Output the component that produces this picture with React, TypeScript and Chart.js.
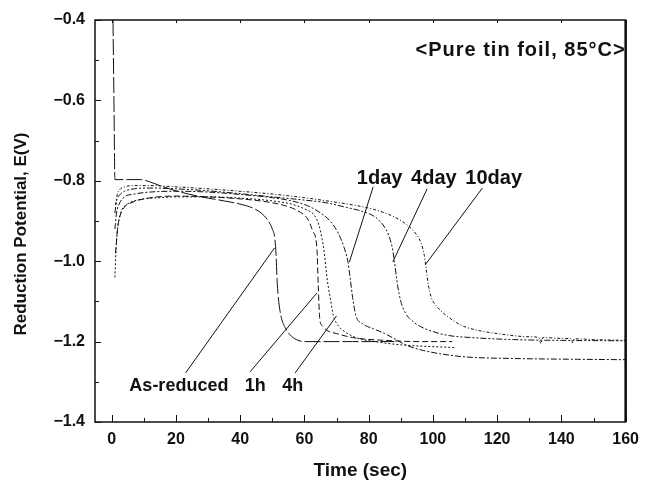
import React, { useEffect, useRef } from "react";
import { Chart, registerables } from "chart.js";

Chart.register(...registerables);

// ---- Data (time in sec, potential in V) ----
const asReducedT = [0.4, 0.7, 1.0, 5, 9, 12, 15, 20, 25, 30, 35, 40, 44, 46.5, 48.5, 50, 50.8, 51.2, 51.5, 52, 52.8, 54, 55.5, 57.5, 60, 65, 75, 88];
const asReducedE = [-0.4, -0.6, -0.797, -0.797, -0.797, -0.803, -0.812, -0.825, -0.835, -0.843, -0.85, -0.858, -0.868, -0.88, -0.897, -0.92, -0.945, -0.99, -1.05, -1.1, -1.14, -1.165, -1.183, -1.195, -1.2, -1.2, -1.2, -1.2];

const h1T = [1.2, 1.8, 2.5, 4, 6, 10, 20, 30, 40, 48, 54, 58, 61, 62.6, 63.9, 64.3, 64.8, 65.5, 67, 70, 75, 85, 96, 106];
const h1E = [-0.98, -0.92, -0.89, -0.865, -0.855, -0.845, -0.838, -0.84, -0.845, -0.852, -0.862, -0.875, -0.895, -0.925, -0.97, -1.06, -1.146, -1.16, -1.172, -1.18, -1.19, -1.197, -1.2, -1.2];

const h4T = [1.0, 1.3, 1.7, 2.2, 3, 4.5, 7, 10, 15, 20, 30, 40, 50, 56, 60, 63, 64.5, 65.5, 66.2, 67, 68, 69, 70.5, 72.5, 76, 82, 90, 107];
const h4E = [-1.04, -0.98, -0.93, -0.9, -0.875, -0.86, -0.85, -0.845, -0.842, -0.84, -0.84, -0.843, -0.85, -0.858, -0.87, -0.885, -0.91, -0.945, -0.98, -1.04, -1.09, -1.135, -1.16, -1.175, -1.19, -1.2, -1.208, -1.215];

const day1T = [1.0, 1.5, 2.5, 4, 7, 12, 20, 30, 40, 50, 56, 61, 65, 68, 70.5, 72.3, 73.5, 74.2, 75, 76, 78, 81.5, 85, 88.5, 92, 97, 102, 110, 125, 145, 160];
const day1E = [-0.92, -0.88, -0.855, -0.84, -0.833, -0.828, -0.826, -0.828, -0.834, -0.842, -0.85, -0.862, -0.88, -0.9, -0.93, -0.965, -1.0, -1.04, -1.09, -1.135, -1.155, -1.168, -1.18, -1.195, -1.21, -1.222, -1.23, -1.238, -1.242, -1.244, -1.245];

const day4T = [1.0, 1.5, 2.5, 4, 7, 12, 20, 30, 40, 50, 60, 67, 73, 78, 82, 84.5, 86.2, 87.3, 88, 89, 90, 91.5, 93.5, 96, 100, 105, 112, 125, 140, 160];
const day4E = [-0.88, -0.85, -0.835, -0.826, -0.82, -0.818, -0.82, -0.825, -0.832, -0.84, -0.848, -0.855, -0.866, -0.876, -0.89, -0.91, -0.935, -0.965, -1.0, -1.06, -1.1, -1.13, -1.148, -1.162, -1.175, -1.185, -1.19, -1.195, -1.197, -1.198];

const day10T = [1.2, 1.7, 2.5, 4, 7, 12, 20, 30, 40, 50, 60, 67, 75, 82, 88, 92, 94.5, 96.3, 97.3, 97.9, 98.6, 99.5, 101.5, 105, 109, 114, 120, 130, 133, 133.6, 134.2, 140, 143, 143.5, 144, 150, 160];
const day10E = [-0.86, -0.835, -0.822, -0.815, -0.812, -0.812, -0.815, -0.82, -0.826, -0.833, -0.842, -0.85, -0.86, -0.872, -0.89, -0.91, -0.93, -0.955, -0.985, -1.02, -1.06, -1.09, -1.115, -1.14, -1.16, -1.172, -1.18, -1.188, -1.19, -1.205, -1.19, -1.192, -1.193, -1.203, -1.193, -1.195, -1.197];

// leader lines (from label to curve)
const leaderStartT = [23.0, 43.0, 57.1, 81.4, 98.2, 115.4];
const leaderStartE = [-1.278, -1.276, -1.278, -0.815, -0.82, -0.818];
const leaderEndT = [50.7, 63.9, 70.0, 74.0, 87.5, 97.6];
const leaderEndE = [-0.967, -1.079, -1.136, -1.002, -1.002, -1.009];

// annotation labels
const labelTexts = ["1day", "4day", "10day", "As-reduced", "1h", "4h"];
const labelT = [76.3, 93.2, 110.1, 5.5, 41.4, 53.1];
const labelE = [-0.793, -0.793, -0.793, -1.31, -1.31, -1.31];
const chartNote = "<Pure tin foil, 85°C>";
const noteT = 160.0;
const noteE = -0.475;

const xTicks = [0, 20, 40, 60, 80, 100, 120, 140, 160];
const xMinorTicks = [10, 30, 50, 70, 90, 110, 130, 150];
const yTicks = [-1.4, -1.2, -1.0, -0.8, -0.6, -0.4];
const yMinorTicks = [-1.3, -1.1, -0.9, -0.7, -0.5];

const xTitle = "Time (sec)";
const yTitle = "Reduction Potential, E(V)";

const FONT = "'Liberation Sans', Arial, Helvetica, sans-serif";

function pts(t: number[], e: number[]) {
  return t.map((v, i) => ({ x: v, y: e[i] }));
}

const decorPlugin = {
  id: "decor",
  afterDraw(chart: any) {
    const { ctx, chartArea: a, scales } = chart;
    const xs = scales.x;
    const ys = scales.y;
    ctx.save();
    ctx.strokeStyle = "#111";
    ctx.lineWidth = 1.5;
    ctx.strokeRect(a.left, a.top, a.right - a.left, a.bottom - a.top);
    ctx.lineWidth = 2.5;
    ctx.beginPath();
    ctx.moveTo(a.right, a.top);
    ctx.lineTo(a.right, a.bottom);
    ctx.stroke();

    ctx.lineWidth = 1;
    ctx.beginPath();
    for (const v of xTicks) {
      const px = Math.round(xs.getPixelForValue(v)) + 0.5;
      ctx.moveTo(px, a.bottom);
      ctx.lineTo(px, a.bottom - 7);
      ctx.moveTo(px, a.top);
      ctx.lineTo(px, a.top + 3);
    }
    for (const v of xMinorTicks) {
      const px = Math.round(xs.getPixelForValue(v)) + 0.5;
      ctx.moveTo(px, a.bottom);
      ctx.lineTo(px, a.bottom - 4);
    }
    for (const v of yTicks) {
      const py = Math.round(ys.getPixelForValue(v)) + 0.5;
      ctx.moveTo(a.left, py);
      ctx.lineTo(a.left + 6, py);
    }
    for (const v of yMinorTicks) {
      const py = Math.round(ys.getPixelForValue(v)) + 0.5;
      ctx.moveTo(a.left, py);
      ctx.lineTo(a.left + 4, py);
    }
    ctx.stroke();

    ctx.fillStyle = "#111";
    ctx.textBaseline = "middle";
    // note
    ctx.font = `bold 20px ${FONT}`;
    (ctx as any).letterSpacing = "1px";
    ctx.textAlign = "right";
    ctx.fillText(chartNote, xs.getPixelForValue(noteT), ys.getPixelForValue(noteE));
    (ctx as any).letterSpacing = "0px";

    ctx.textAlign = "left";
    labelTexts.forEach((txt, i) => {
      ctx.font = labelE[i] < -1.25 ? `bold 18px ${FONT}` : `bold 20px ${FONT}`;
      ctx.fillText(txt, xs.getPixelForValue(labelT[i]), ys.getPixelForValue(labelE[i]));
    });

    // axis titles
    ctx.textAlign = "center";
    ctx.font = `bold 19px ${FONT}`;
    ctx.fillText(xTitle, (a.left + a.right) / 2, 471);
    ctx.save();
    ctx.translate(21, 234);
    ctx.rotate(-Math.PI / 2);
    ctx.font = `bold 17px ${FONT}`;
    ctx.fillText(yTitle, 0, 0);
    ctx.restore();
    ctx.restore();
  },
};

export default function App() {
  const ref = useRef<HTMLCanvasElement>(null);
  useEffect(() => {
    if (!ref.current) return;
    const series = [
      { t: asReducedT, e: asReducedE, dash: [16, 3] },
      { t: h1T, e: h1E, dash: [6, 3] },
      { t: h4T, e: h4E, dash: [2, 2] },
      { t: day1T, e: day1E, dash: [6, 2, 2, 2] },
      { t: day4T, e: day4E, dash: [6, 2, 2, 2, 2, 2] },
      { t: day10T, e: day10E, dash: [3, 2, 1, 2] },
    ];
    const datasets: any[] = series.map((s) => ({
      data: pts(s.t, s.e),
      borderColor: "#111",
      borderWidth: 1,
      borderDash: s.dash,
      pointRadius: 0,
      fill: false,
      cubicInterpolationMode: "monotone",
    }));
    leaderStartT.forEach((_, i) => {
      datasets.push({
        data: [
          { x: leaderStartT[i], y: leaderStartE[i] },
          { x: leaderEndT[i], y: leaderEndE[i] },
        ],
        borderColor: "#111",
        borderWidth: 1,
        pointRadius: 0,
        fill: false,
      });
    });
    const chart = new Chart(ref.current, {
      type: "line",
      data: { datasets },
      options: {
        responsive: false,
        animation: false,
        layout: { padding: { left: 0, right: 13, top: 20, bottom: 0 } },
        plugins: { legend: { display: false }, tooltip: { enabled: false } },
        scales: {
          x: {
            type: "linear",
            min: -5.2,
            max: 160,
            grid: { display: false, drawTicks: false },
            border: { display: false },
            afterBuildTicks: (s: any) => {
              s.ticks = xTicks.map((v) => ({ value: v }));
            },
            afterFit: (s: any) => {
              s.height = 59;
            },
            ticks: {
              color: "#111",
              padding: 8,
              autoSkip: false,
              maxRotation: 0,
              font: { family: FONT, size: 16, weight: "bold" },
              callback: (v: any) => String(v),
            },
          },
          y: {
            type: "linear",
            min: -1.4,
            max: -0.4,
            grid: { display: false, drawTicks: false },
            border: { display: false },
            afterBuildTicks: (s: any) => {
              s.ticks = yTicks.map((v) => ({ value: v }));
            },
            afterFit: (s: any) => {
              s.width = 95;
            },
            ticks: {
              color: "#111",
              padding: 10,
              autoSkip: false,
              font: { family: FONT, size: 16, weight: "bold" },
              callback: (v: any) => Number(v).toFixed(1).replace("-", "\u2212"),
            },
          },
        },
      },
      plugins: [decorPlugin],
    } as any);
    return () => chart.destroy();
  }, []);
  return (
    <div style={{ position: "absolute", left: 0, top: 0, width: 647, height: 481, background: "#fff" }}>
      <canvas ref={ref} width={647} height={481} style={{ display: "block" }} />
    </div>
  );
}
